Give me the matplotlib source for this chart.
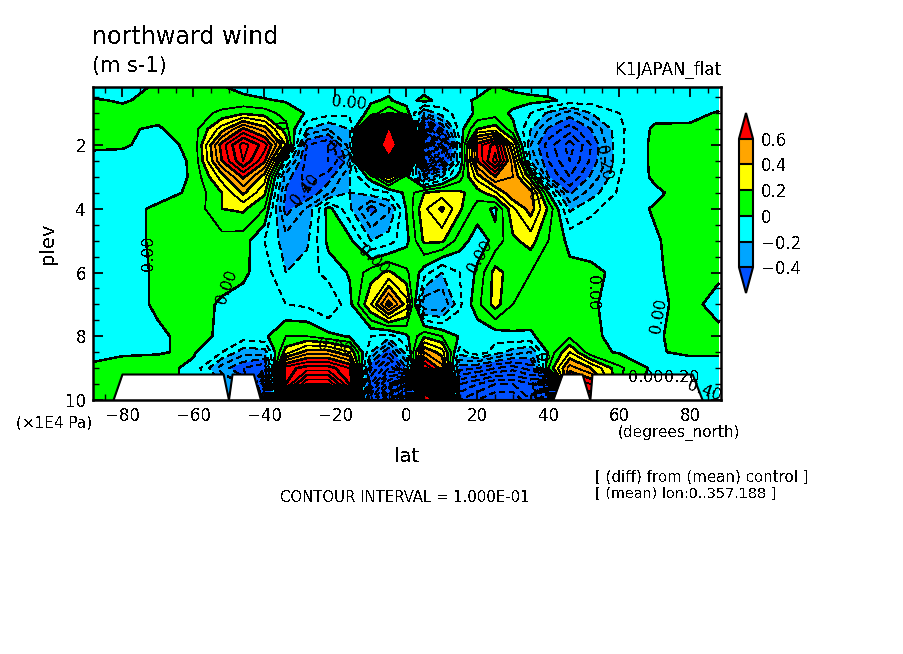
import matplotlib
matplotlib.use("Agg")
import matplotlib.colors as mcolors
import matplotlib.pyplot as plt
import numpy as np

plt.rcParams["text.antialiased"] = False
plt.rcParams["font.family"] = "DejaVu Sans"

lat = [-88, -80, -70, -60, -52, -46, -40, -34, -28, -22, -16, -10, -5, 0,
       5, 10, 15, 20, 25, 30, 35, 40, 46, 52, 60, 70, 80, 88]
plev = [0.2, 0.6, 1, 1.5, 2, 2.5, 3, 3.5, 4, 5, 6, 7, 8, 8.5, 9, 9.5, 10]

# zonal mean difference, rows follow plev, columns follow lat
v_diff = [
    [-.06, -.05, .02, .03, .01, -.03, -.05, -.06, -.06, -.05, -.04, -.03, -.02, -.03,
     -.04, -.03, -.05, -.03, .01, -.02, -.04, -.05, -.06, -.06, -.06, -.05, -.05, -.05],
    [.01, -.01, .03, .05, .05, .03, .01, -.01, -.04, -.05, -.05, -.01, .01, -.04,
     .03, -.04, -.02, .01, .04, .04, .03, .02, -.03, -.06, -.06, -.05, -.05, -.05],
    [.03, .03, .03, .06, .12, .18, .15, .06, -.01, -.06, -.08, .03, .2, .05,
     -.3, -.15, -.06, .02, .05, -.02, -.1, -.22, -.35, -.2, -.1, -.04, -.03, .01],
    [.02, .01, -.01, .05, .35, .62, .45, .14, -.2, -.3, -.2, .7, 2.6, 1.2,
     -1.0, -.5, -.05, .2, .25, .03, -.2, -.42, -.55, -.4, -.12, .02, .02, .05],
    [.01, .01, -.03, .02, .65, .95, .75, .3, -.5, -.6, -.25, 1.4, 3.2, 1.5,
     -1.6, -.9, -.1, .65, .85, .3, -.3, -.55, -.75, -.5, -.12, .03, .04, .05],
    [-.02, -.03, -.04, .01, .6, .9, .62, -.1, -.55, -.6, -.35, 1.2, 2.2, 1.0,
     -1.3, -.7, -.1, .6, .95, .45, -.2, -.5, -.7, -.48, -.12, .03, .04, .05],
    [-.03, -.04, -.05, .01, .35, .62, .35, -.35, -.55, -.45, -.2, .05, .35, .05,
     -.4, -.2, .05, .35, .6, .5, .15, -.4, -.6, -.38, -.1, .02, .04, .05],
    [-.03, -.04, -.04, .02, .2, .42, .22, -.42, -.5, -.32, -.2, -.15, -.1, .03,
     .2, .25, .22, .15, .28, .5, .45, .0, -.42, -.25, -.08, -.02, .05, .05],
    [-.03, -.04, .02, .03, .2, .22, .1, -.45, -.28, .04, -.18, -.45, -.32, .01,
     .28, .42, .22, .05, -.02, .28, .45, .18, -.22, -.12, -.05, .01, .05, .05],
    [-.03, -.04, .02, .03, .06, .05, -.1, -.25, -.22, .03, .03, -.2, -.15, -.03,
     .22, .22, .05, -.05, .03, .18, .24, .1, -.03, -.04, -.03, -.01, .05, .05],
    [-.03, -.03, .01, .03, .03, .02, -.05, -.2, -.15, -.06, .01, .15, .22, .12,
     -.05, -.2, -.1, .02, .24, .15, .1, .05, .03, .02, -.02, -.01, .03, .02],
    [-.03, -.03, .01, .03, -.01, -.04, -.03, -.1, -.12, -.2, -.03, .3, .65, .35,
     -.38, -.4, -.12, .07, .24, .1, .04, .0, .03, .01, -.03, -.02, .03, -.04],
    [-.02, -.03, -.01, .02, -.01, -.05, -.02, .1, .1, .03, -.01, -.1, -.15, -.02,
     .18, .1, -.01, -.08, -.06, -.02, -.01, .03, .08, .02, -.03, -.01, .03, .03],
    [-.03, -.01, -.005, .01, -.1, -.25, -.25, .25, .45, .45, .3, -.2, -.5, -.15,
     .5, .35, -.15, -.02, -.15, -.25, -.3, .02, .3, .03, -.01, -.005, .01, .01],
    [.02, .03, .03, -.02, -.35, -.5, -.6, .75, .85, .85, .7, -.5, -.8, -.4,
     .8, .55, -.45, -.5, -.6, -.65, -.55, .1, .55, .4, .12, -.03, -.03, -.03],
    [.08, .05, .03, -.02, -.2, -.3, -1.0, .8, 1.2, 1.2, .8, -.7, -1.2, -2.0,
     2.0, 1.6, -.8, -.9, -1.0, -1.0, -.9, -1.5, .8, .7, .1, -.05, -.05, -.06],
    [.1, .06, .03, -.02, -.3, -.4, -1.5, 1.5, 2.2, 2.2, 1.4, -1.0, -1.6, -2.4,
     2.8, 2.2, -1.0, -1.1, -1.2, -1.2, -1.0, -2.0, 1.0, .9, .1, -.06, -.06, -.08],
]

# below ground parts, top of the white blocks
land_lat = [-82.5, -80, -51.5, -50, -49, -43, -41, 41.4, 44, 49.6, 51.8, 52.4, 80.6, 83.4]
land_top = [10, 9.2, 9.2, 10, 9.2, 9.2, 10, 10, 9.2, 9.2, 10, 9.2, 9.2, 10]

fill_levels = [-0.4, -0.2, 0, 0.2, 0.4, 0.6]
fill_colors = ["#00a5ff", "#00ffff", "#00ff00", "#ffff00", "#ffa500"]
under_color = "#0050ff"
over_color = "#ff0000"

line_labels = [
    (-16.3, 0.68, "0.00", -5), (-72.7, 5.4, "0.00", 90), (-50.7, 6.45, "0.00", 70),
    (-9.3, 5.6, "0.00", -40), (20.8, 5.5, "0.00", 60), (52.4, 6.65, "0.00", -90),
    (71, 7.35, "0.00", 80), (-20, 8.35, "0.00", -10), (55.5, 2.55, "0.20", -80),
    (34.9, 3.25, "0.40", -75), (-28.5, 3.4, "0.40", 50), (-36, 1.8, "0.20", -90),
    (-18.6, 2.3, "0.20", -40), (37.7, 9.05, "0.20", -90), (67.5, 9.28, "0.00", 0),
    (77.5, 9.28, "0.20", 0), (84, 9.7, "0.40", -20),
]

W, H = 904, 654
fig = plt.figure(figsize=(W / 100, H / 100), dpi=100)
ax = fig.add_axes([93 / W, 1 - 400 / H, (721 - 93) / W, (400 - 87) / H])

cmap = mcolors.ListedColormap(fill_colors)
cmap.set_under(under_color)
cmap.set_over(over_color)
norm = mcolors.BoundaryNorm(fill_levels, cmap.N)

lon_grid, p_grid = np.meshgrid(lat, plev)
field = np.array(v_diff)
cf = ax.contourf(lon_grid, p_grid, field, levels=fill_levels, cmap=cmap, norm=norm,
                 extend="both", antialiased=False)

line_levels = np.round(np.arange(-25, 26) * 0.1, 1)
thick = [v for v in line_levels if round(v * 10) % 2 == 0]
thin = [v for v in line_levels if round(v * 10) % 2 != 0]
for levs, width, dash in [(thin, 0.5, (8, 6)), (thick, 1.05, (5, 3))]:
    neg = [v for v in levs if v < 0]
    pos = [v for v in levs if v >= 0]
    ax.contour(lon_grid, p_grid, field, levels=neg, colors="k", linewidths=width,
               linestyles=[(0, dash)], antialiased=False)
    ax.contour(lon_grid, p_grid, field, levels=pos, colors="k", linewidths=width,
               linestyles="solid", antialiased=False)

ax.fill_between(land_lat, land_top, 10, color="white", linewidth=0, zorder=3)
ax.plot(land_lat, land_top, color="k", lw=1.5, zorder=3)

for x, y, s, rot in line_labels:
    ax.text(x, y, s, rotation=rot, fontsize=11.5, ha="center", va="center",
            rotation_mode="anchor", zorder=4)

ax.set_xlim(-88.3, 88.6)
ax.set_ylim(10, 0.18)
ax.set_xticks(np.arange(-80, 81, 20))
ax.set_xticks(np.arange(-85, 86, 5), minor=True)
ax.set_yticks([2, 4, 6, 8, 10])
ax.set_yticks(np.arange(0.5, 10, 0.5), minor=True)
ax.tick_params(which="major", direction="in", length=7, width=1.3, top=True, right=True,
               labelsize=12, pad=5, zorder=5)
ax.tick_params(which="minor", direction="in", length=4, width=1.0, top=True, right=True)
for sp in ax.spines.values():
    sp.set_linewidth(1.8)
    sp.set_zorder(6)

cax = fig.add_axes([739 / W, 1 - 293 / H, 14 / W, 180 / H])
cb = fig.colorbar(cf, cax=cax, extend="both", extendfrac=0.2, drawedges=True,
                  spacing="uniform")
cb.set_ticks(fill_levels)
cb.set_ticklabels(["\u22120.4", "\u22120.2", "0", "0.2", "0.4", "0.6"])
cb.ax.tick_params(length=0, labelsize=12, pad=6)
cb.outline.set_linewidth(1.5)
cb.dividers.set_linewidth(1.5)


def label(px, py, s, **kw):
    fig.text(px / W, 1 - py / H, s, va="center", **kw)


label(92, 37, "northward wind", fontsize=17.2)
label(92, 66, "(m s-1)", fontsize=15)
label(721, 70, "K1JAPAN_flat", fontsize=12, ha="right")
label(48, 243, "plev", fontsize=14, rotation=90, ha="center")
label(407, 457, "lat", fontsize=14, ha="center")
label(16, 423, "(\u00d71E4 Pa)", fontsize=11)
label(618, 433, "(degrees_north)", fontsize=11)
label(405, 497, "CONTOUR INTERVAL = 1.000E-01", fontsize=10.7, ha="center")
label(595, 477, "[ (diff) from (mean) control ]", fontsize=10.8)
label(595, 494, "[ (mean) lon:0..357.188 ]", fontsize=10.4)

fig.savefig("out.png", dpi=100)
